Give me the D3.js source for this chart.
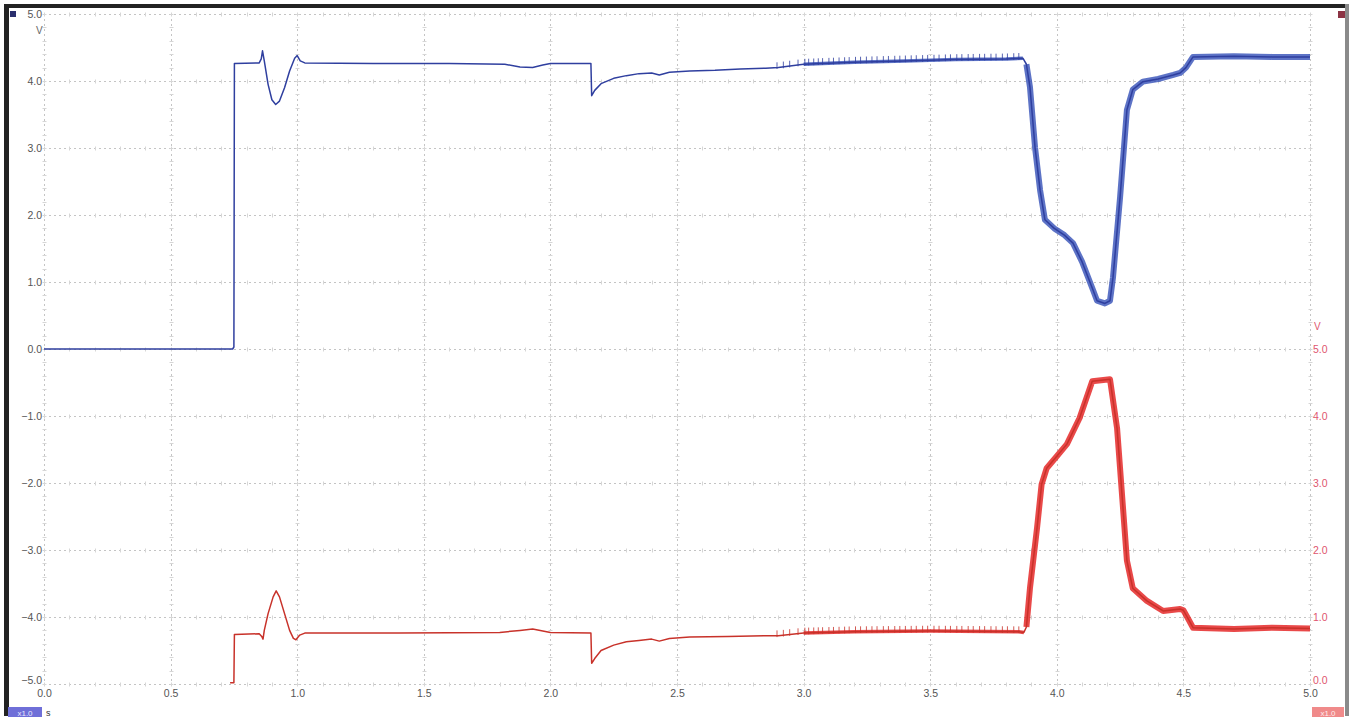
<!DOCTYPE html>
<html>
<head>
<meta charset="utf-8">
<script src="https://cdn.jsdelivr.net/npm/d3@7"></script>
<style>
  html, body { margin: 0; padding: 0; background: #fff; }
  svg { display: block; font-family: "Liberation Sans", Arial, sans-serif; }
</style>
</head>
<body>
<svg id="chart" width="1355" height="720"></svg>
<script>
const timeTicks = [0, 0.5, 1, 1.5, 2, 2.5, 3, 3.5, 4, 4.5, 5];
const leftTicks = [5, 4, 3, 2, 1, 0, -1, -2, -3, -4, -5];
const rightTicks = [5, 4, 3, 2, 1, 0];

// channel 1 (blue, left axis, V)
const blueTrace = [
  [0, 0], [0.745, 0], [0.75, 0.03], [0.752, 4.26], [0.85, 4.27], [0.858, 4.33], [0.863, 4.45],
  [0.87, 4.3], [0.885, 3.95], [0.9, 3.72], [0.915, 3.65], [0.93, 3.7], [0.95, 3.9], [0.97, 4.15],
  [0.99, 4.34], [1.0, 4.38], [1.012, 4.3], [1.03, 4.27], [1.3, 4.26], [1.6, 4.26], [1.82, 4.25],
  [1.88, 4.21], [1.93, 4.2], [1.97, 4.24], [2.0, 4.26], [2.16, 4.26], [2.163, 3.78], [2.175, 3.86],
  [2.2, 3.96], [2.25, 4.04], [2.3, 4.08], [2.35, 4.11], [2.4, 4.12], [2.43, 4.09], [2.47, 4.13],
  [2.55, 4.15], [2.65, 4.16], [2.75, 4.18], [2.85, 4.19], [2.9, 4.2], [3.0, 4.25], [3.2, 4.28],
  [3.4, 4.3], [3.6, 4.32], [3.8, 4.33], [3.866, 4.34], [3.88, 4.25], [3.894, 3.91], [3.914, 3.01],
  [3.934, 2.37], [3.953, 1.93], [3.99, 1.8], [4.03, 1.7], [4.064, 1.58], [4.1, 1.3], [4.143, 0.88],
  [4.159, 0.72], [4.19, 0.68], [4.21, 0.72], [4.222, 1.07], [4.25, 2.27], [4.277, 3.57], [4.3, 3.87],
  [4.34, 3.99], [4.4, 4.03], [4.46, 4.09], [4.487, 4.12], [4.51, 4.2], [4.538, 4.36], [4.7, 4.37],
  [4.85, 4.36], [5.0, 4.36]
];

// channel 2 (red, right axis, V)
const redTrace = [
  [0.735, 0.02], [0.75, 0.02], [0.752, 0.74], [0.85, 0.75], [0.86, 0.71], [0.865, 0.67], [0.87, 0.8],
  [0.885, 1.05], [0.905, 1.3], [0.917, 1.39], [0.93, 1.3], [0.95, 1.05], [0.97, 0.8], [0.985, 0.68],
  [0.995, 0.66], [1.01, 0.73], [1.03, 0.76], [1.4, 0.76], [1.8, 0.77], [1.88, 0.8], [1.93, 0.82],
  [1.97, 0.79], [2.0, 0.77], [2.16, 0.76], [2.163, 0.31], [2.175, 0.38], [2.2, 0.5], [2.25, 0.58],
  [2.3, 0.63], [2.35, 0.65], [2.4, 0.67], [2.43, 0.64], [2.47, 0.68], [2.55, 0.7], [2.7, 0.71],
  [2.85, 0.72], [2.9, 0.72], [3.0, 0.76], [3.2, 0.78], [3.5, 0.79], [3.85, 0.78], [3.87, 0.77],
  [3.88, 0.85], [3.894, 1.43], [3.922, 2.33], [3.94, 2.98], [3.96, 3.22], [4.0, 3.4], [4.04, 3.58],
  [4.09, 3.97], [4.14, 4.52], [4.21, 4.55], [4.238, 3.82], [4.277, 1.84], [4.3, 1.43], [4.356, 1.24],
  [4.42, 1.09], [4.487, 1.12], [4.5, 1.1], [4.515, 1.0], [4.538, 0.84], [4.7, 0.82], [4.85, 0.84],
  [5.0, 0.83]
];

// small switching spikes seen on both channels
const spikeTimes = [2.895, 2.92, 2.945, 2.978, 3.005, 3.02, 3.04, 3.058, 3.075, 3.1, 3.118, 3.14,
  3.162, 3.18, 3.205, 3.225, 3.248, 3.27, 3.29, 3.315, 3.335, 3.36, 3.38, 3.402, 3.425, 3.445, 3.47,
  3.49, 3.515, 3.535, 3.56, 3.58, 3.605, 3.625, 3.65, 3.67, 3.695, 3.715, 3.74, 3.76, 3.785, 3.805,
  3.83, 3.85];
const spikeHeight = 0.08;

// time windows where the trace is a wide noisy band [t0, t1]
const blueNoisy = [[3.0, 3.87], [3.88, 5.0]];
const redNoisy = [[3.0, 3.87], [3.88, 5.0]];

// ---- layout ----
const svg = d3.select("#chart");
const x = d3.scaleLinear().domain([0, 5]).range([44, 1310]);
const yL = d3.scaleLinear().domain([-5, 5]).range([684, 14]);
const yR = d3.scaleLinear().domain([0, 5]).range([684, 349]);

const blueCol = "#2f3f9f", redCol = "#c8322a", redNoiseCol = "#e31b1b";

// frame
svg.append("rect").attr("x", 0).attr("y", 0).attr("width", 1355).attr("height", 720).attr("fill", "#fff");
svg.append("rect").attr("x", 4).attr("y", 4).attr("width", 5).attr("height", 712).attr("fill", "#222");
svg.append("rect").attr("x", 4).attr("y", 4).attr("width", 1344).attr("height", 4).attr("fill", "#222");
svg.append("rect").attr("x", 1345).attr("y", 4).attr("width", 4).attr("height", 712).attr("fill", "#8a8a8a");

// grid
const grid = svg.append("g").attr("stroke", "#c4c4c4").attr("stroke-width", 1).attr("stroke-dasharray", "2,3");
grid.selectAll(".vg").data(timeTicks).join("line")
  .attr("x1", d => Math.round(x(d)) + 0.5).attr("x2", d => Math.round(x(d)) + 0.5)
  .attr("y1", yL(5)).attr("y2", yL(-5));
grid.selectAll(".hg").data(leftTicks).join("line")
  .attr("y1", d => Math.round(yL(d)) + 0.5).attr("y2", d => Math.round(yL(d)) + 0.5)
  .attr("x1", x(0)).attr("x2", x(5));

// minor ticks along the major grid lines
const minorV = d3.range(-50, 51, 2).map(d => d / 10);
const minorT = d3.range(0, 51).map(d => d / 10);
const minor = svg.append("g").attr("stroke", "#d6d6d6").attr("stroke-width", 1);
timeTicks.forEach(t => {
  minor.selectAll(null).data(minorV).join("line")
    .attr("x1", Math.round(x(t)) - 1.5).attr("x2", Math.round(x(t)) + 2.5)
    .attr("y1", d => Math.round(yL(d)) + 0.5).attr("y2", d => Math.round(yL(d)) + 0.5);
});
leftTicks.forEach(v => {
  minor.selectAll(null).data(minorT).join("line")
    .attr("y1", Math.round(yL(v)) - 1.5).attr("y2", Math.round(yL(v)) + 2.5)
    .attr("x1", d => Math.round(x(d)) + 0.5).attr("x2", d => Math.round(x(d)) + 0.5);
});

// axes labels
const leftAxis = d3.axisLeft(yL).tickValues(leftTicks).tickFormat(d3.format(".1f")).tickSize(0).tickPadding(2);
const gl = svg.append("g").attr("transform", "translate(44,0)").call(leftAxis);
gl.select(".domain").remove();
gl.selectAll("text").attr("fill", "#555").attr("font-size", 10.5).attr("font-family", "Liberation Sans, Arial");
gl.selectAll(".tick").filter(d => d === -5).select("text").attr("dy", "-0.05em");

const bottomAxis = d3.axisBottom(x).tickValues(timeTicks).tickFormat(d3.format(".1f")).tickSize(0).tickPadding(6);
const gb = svg.append("g").attr("transform", "translate(0,684)").call(bottomAxis);
gb.select(".domain").remove();
gb.selectAll("text").attr("fill", "#555").attr("font-size", 10.5).attr("font-family", "Liberation Sans, Arial");

const rightAxis = d3.axisRight(yR).tickValues(rightTicks).tickFormat(d3.format(".1f")).tickSize(0).tickPadding(3);
const gr = svg.append("g").attr("transform", "translate(1310,0)").call(rightAxis);
gr.select(".domain").remove();
gr.selectAll("text").attr("fill", "#e0566e").attr("font-size", 10.5).attr("font-family", "Liberation Sans, Arial");
gr.selectAll(".tick").filter(d => d === 0).select("text").attr("dy", "-0.05em");

svg.append("text").attr("x", 36).attr("y", 34).attr("fill", "#666").attr("font-size", 10).text("V");
svg.append("text").attr("x", 1314).attr("y", 330).attr("fill", "#e0566e").attr("font-size", 10).text("V");

// channel markers
svg.append("rect").attr("x", 10).attr("y", 11).attr("width", 6).attr("height", 6).attr("fill", "#2b2f6e");
svg.append("rect").attr("x", 1338).attr("y", 11).attr("width", 7).attr("height", 7).attr("fill", "#8c3444");
svg.append("rect").attr("x", 8).attr("y", 707).attr("width", 34).attr("height", 10).attr("fill", "#6f6fd8");
svg.append("text").attr("x", 25).attr("y", 715.5).attr("text-anchor", "middle").attr("fill", "#e8e8ff").attr("font-size", 8).text("x1.0");
svg.append("rect").attr("x", 1312).attr("y", 707).attr("width", 32).attr("height", 10).attr("fill", "#f08a8a");
svg.append("text").attr("x", 1328).attr("y", 715.5).attr("text-anchor", "middle").attr("fill", "#ffecec").attr("font-size", 8).text("x1.0");
svg.append("text").attr("x", 46).attr("y", 716).attr("fill", "#333").attr("font-size", 9).text("s");

// ---- traces ----
function drawTrace(pts, yScale, col, noiseCol, noisy, bandW) {
  const line = d3.line().x(d => x(d[0])).y(d => yScale(d[1]));
  noisy.forEach(([t0, t1], i) => {
    const seg = pts.filter(d => d[0] >= t0 && d[0] <= t1);
    svg.append("path").datum(seg).attr("d", line).attr("fill", "none")
      .attr("stroke", noiseCol).attr("stroke-width", bandW[i]).attr("stroke-opacity", 0.8)
      .attr("stroke-linejoin", "round");
  });
  svg.append("path").datum(pts).attr("d", line).attr("fill", "none")
    .attr("stroke", col).attr("stroke-width", 1.5).attr("stroke-linejoin", "round");
  // spikes
  const ts = pts.map(d => d[0]), vs = pts.map(d => d[1]);
  const interp = t => {
    const i = d3.bisectRight(ts, t);
    const a = i - 1, b = Math.min(i, ts.length - 1);
    if (ts[b] === ts[a]) return vs[a];
    return vs[a] + (vs[b] - vs[a]) * (t - ts[a]) / (ts[b] - ts[a]);
  };
  svg.append("g").selectAll("line").data(spikeTimes).join("line")
    .attr("x1", d => x(d)).attr("x2", d => x(d))
    .attr("y1", d => yScale(interp(d) - 0.02)).attr("y2", d => yScale(interp(d) + spikeHeight))
    .attr("stroke", col).attr("stroke-width", 1).attr("stroke-opacity", 0.8);
}

drawTrace(blueTrace, yL, blueCol, "#3550b8", blueNoisy, [3.5, 6]);
drawTrace(redTrace, yR, redCol, redNoiseCol, redNoisy, [3.5, 6]);
</script>
</body>
</html>
